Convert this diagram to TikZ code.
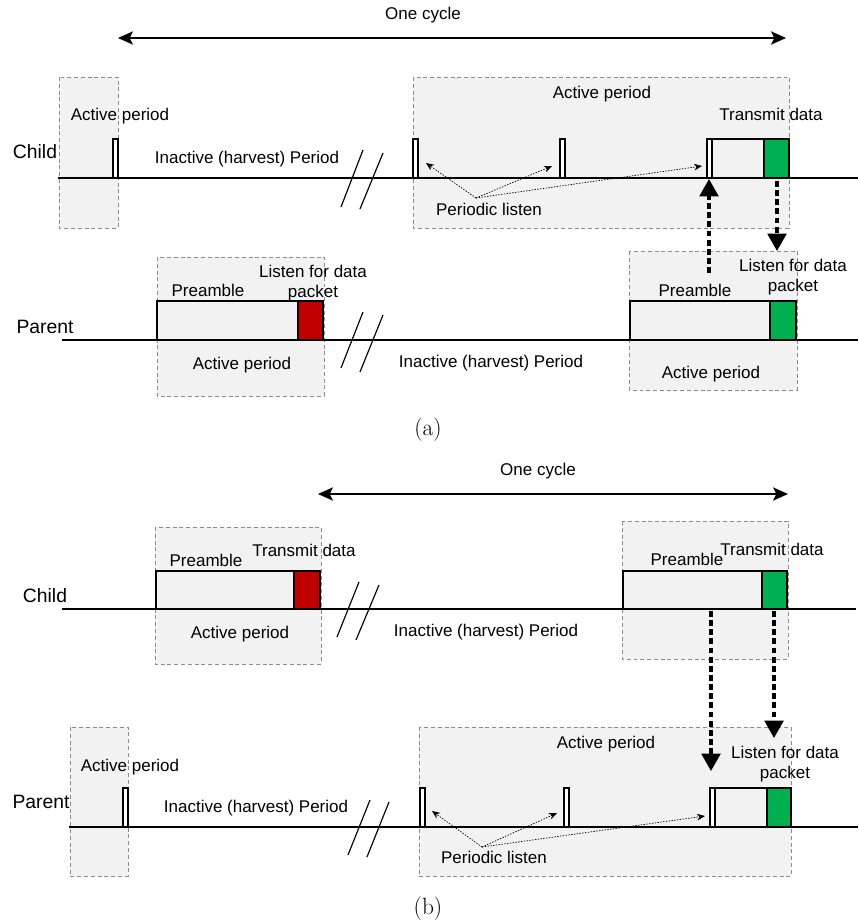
\documentclass[tikz,border=0pt]{standalone}
\usepackage{fontspec}
\newfontfamily\arial{Liberation Sans}
\usepackage{tikz}
\usetikzlibrary{arrows.meta}
\definecolor{boxgray}{HTML}{F2F2F2}
\definecolor{datared}{HTML}{C00000}
\definecolor{datagreen}{HTML}{00B050}
\tikzstyle{zone}=[
	fill=boxgray,
	draw=black!45,
	dash pattern=on 3.4pt off 2.4pt,
	line width=0.6pt
]
\tikzstyle{axis}=[
	draw=black,
	line width=1.1pt
]
\tikzstyle{pulse}=[
	draw=black,
	fill=white,
	line width=1pt
]
\tikzstyle{pre}=[
	draw=black,
	fill=boxgray,
	line width=1.1pt
]
\tikzstyle{txred}=[
	pre,
	fill=datared
]
\tikzstyle{txgreen}=[
	pre,
	fill=datagreen
]
\tikzstyle{brk}=[
	draw=black,
	line width=1pt
]
\tikzstyle{lbl}=[
	font=\arial\fontsize{14.5}{17.5}\selectfont,
	inner sep=0pt,
	align=center
]
\tikzstyle{side}=[
	lbl,
	font=\arial\fontsize{16.5}{19}\selectfont
]
\tikzstyle{capt}=[
	font=\fontsize{20}{22}\selectfont,
	inner sep=0pt
]
\tikzstyle{hint}=[
	-{Stealth[length=2.4mm,width=2mm]},
	dash pattern=on 1.2pt off 1.2pt,
	line width=0.6pt
]
\tikzstyle{sig}=[
	-{Triangle[length=5.2mm,width=5.6mm]},
	dash pattern=on 5pt off 2.8pt,
	line width=2.8pt
]
\tikzstyle{span}=[
	{Stealth[length=4.5mm,width=4mm,inset=1mm]}-{Stealth[length=4.5mm,width=4mm,inset=1mm]},
	line width=1.3pt
]

\begin{document}
\begin{tikzpicture}[x=0.03cm, y=-0.03cm]
\useasboundingbox (0,0) rectangle (858,923);

\draw[zone] (59,77) rectangle (118,228);
\draw[zone] (413,77) rectangle (789,228);
\draw[zone] (157,257) rectangle (324,396);
\draw[zone] (629,251) rectangle (797,390);

\coordinate (ca0) at (58,178);
\coordinate (ca1) at (858,178);
\coordinate (pa0) at (62,340);
\coordinate (pa1) at (858,340);
\draw[axis] (ca0) -- (ca1);
\draw[axis] (pa0) -- (pa1);

\draw[pulse] (113,139) rectangle (118,178);
\draw[pulse] (413,139) rectangle (418,178);
\draw[pulse] (560,139) rectangle (565,178);
\draw[pulse] (707,139) rectangle (712,178);
\draw[pre] (712,139) rectangle (764,178);
\draw[txgreen] (764,139) rectangle (789,178);

\draw[pre] (157,301) rectangle (298,340);
\draw[txred] (298,301) rectangle (323,340);
\draw[pre] (630,301) rectangle (770,340);
\draw[txgreen] (770,301) rectangle (796,340);

\draw[brk] (363,150) -- (341,207);
\draw[brk] (383,153) -- (360,209);
\draw[brk] (363,312) -- (341,368);
\draw[brk] (383,315) -- (360,372);

\node[lbl] (cyca) at (423,15) {One cycle};
\node[side] (childa) at (35,152) {Child};
\node[lbl] (acta1) at (120,116) {Active period};
\node[lbl] (ina1) at (247,159) {Inactive (harvest) Period};
\node[lbl] (acta2) at (602,94) {Active period};
\node[lbl] (txa) at (771,114) {Transmit data};
\node[lbl] (pla) at (489,209) {Periodic listen};
\node[side] (parenta) at (45,327) {Parent};
\node[lbl] (prea1) at (208,290) {Preamble};
\node[lbl] (lsa1) at (313,283) {Listen for data\\packet};
\node[lbl] (acta3) at (242,365) {Active period};
\node[lbl] (ina2) at (491,363) {Inactive (harvest) Period};
\node[lbl] (prea2) at (695,290) {Preamble};
\node[lbl] (lsa2) at (793,277) {Listen for data\\packet};
\node[lbl] (acta4) at (711,374) {Active period};
\node[capt] (capa) at (428,430) {(a)};

\coordinate (oa0) at (118,38);
\coordinate (oa1) at (786,38);
\draw[span] (oa0) -- (oa1);

\coordinate (hla) at (476,198);
\coordinate (hla1) at (426,163);
\coordinate (hla2) at (552,166);
\coordinate (hla3) at (702,166);
\draw[hint] (hla) -- (hla1);
\draw[hint] (hla) -- (hla2);
\draw[hint] (hla) -- (hla3);

\coordinate (sa0) at (709,273);
\coordinate (sa1) at (709,179);
\coordinate (sa2) at (777,181);
\coordinate (sa3) at (777,251);
\draw[sig] (sa0) -- (sa1);
\draw[sig] (sa2) -- (sa3);

\draw[zone] (155,527) rectangle (321,664);
\draw[zone] (622,521) rectangle (788,659);
\draw[zone] (70,727) rectangle (128,876);
\draw[zone] (419,727) rectangle (791,876);

\coordinate (cb0) at (62,609);
\coordinate (cb1) at (856,609);
\coordinate (pb0) at (69,827);
\coordinate (pb1) at (858,827);
\draw[axis] (cb0) -- (cb1);
\draw[axis] (pb0) -- (pb1);

\draw[pre] (156,571) rectangle (294,609);
\draw[txred] (294,571) rectangle (320,609);
\draw[pre] (623,571) rectangle (762,609);
\draw[txgreen] (762,571) rectangle (787,609);

\draw[pulse] (123,788) rectangle (128,827);
\draw[pulse] (420,788) rectangle (425,827);
\draw[pulse] (564,788) rectangle (569,827);
\draw[pulse] (710,788) rectangle (715,827);
\draw[pre] (715,788) rectangle (767,827);
\draw[txgreen] (767,788) rectangle (791,827);

\draw[brk] (359,582) -- (337,637);
\draw[brk] (379,585) -- (356,640);
\draw[brk] (370,800) -- (348,855);
\draw[brk] (389,802) -- (367,857);

\node[lbl] (cycb) at (538,471) {One cycle};
\node[side] (childb) at (45,596) {Child};
\node[lbl] (preb1) at (206,560) {Preamble};
\node[lbl] (txb1) at (304,550) {Transmit data};
\node[lbl] (actb1) at (240,634) {Active period};
\node[lbl] (inb1) at (486,632) {Inactive (harvest) Period};
\node[lbl] (preb2) at (687,559) {Preamble};
\node[lbl] (txb2) at (772,549) {Transmit data};
\node[side] (parentb) at (41,802) {Parent};
\node[lbl] (actb2) at (130,767) {Active period};
\node[lbl] (inb2) at (256,808) {Inactive (harvest) Period};
\node[lbl] (actb3) at (606,744) {Active period};
\node[lbl] (lsb) at (785,764) {Listen for data\\packet};
\node[lbl] (plb) at (494,857) {Periodic listen};
\node[capt] (capb) at (428,909) {(b)};

\coordinate (ob0) at (318,494);
\coordinate (ob1) at (788,494);
\draw[span] (ob0) -- (ob1);

\coordinate (hlb) at (482,847);
\coordinate (hlb1) at (432,811);
\coordinate (hlb2) at (557,813);
\coordinate (hlb3) at (705,816);
\draw[hint] (hlb) -- (hlb1);
\draw[hint] (hlb) -- (hlb2);
\draw[hint] (hlb) -- (hlb3);

\coordinate (sb0) at (711,611);
\coordinate (sb1) at (711,771);
\coordinate (sb2) at (774,611);
\coordinate (sb3) at (774,738);
\draw[sig] (sb0) -- (sb1);
\draw[sig] (sb2) -- (sb3);

\end{tikzpicture}
\end{document}
